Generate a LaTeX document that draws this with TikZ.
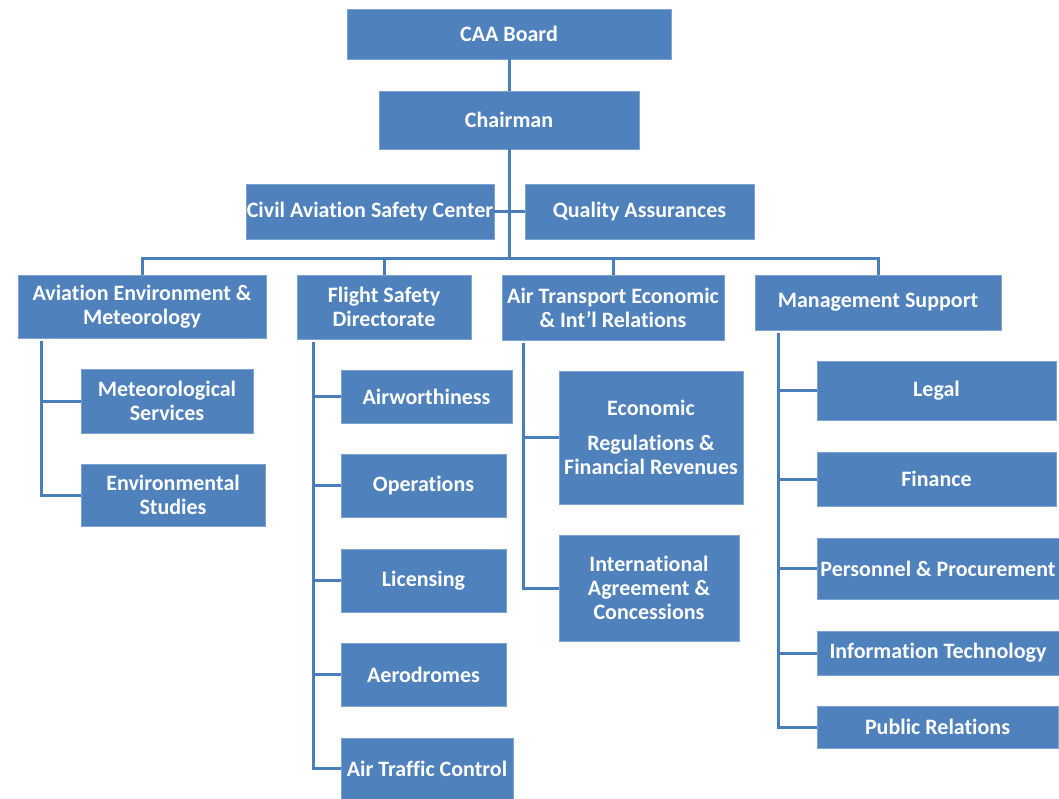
\documentclass[tikz,border=0pt]{standalone}
\usepackage{fontspec}
\setmainfont{Carlito}[Ligatures=NoCommon]
\definecolor{boxfill}{RGB}{79,129,189}
\definecolor{boxedge}{RGB}{125,163,211}
\definecolor{linec}{RGB}{74,126,187}
\begin{document}
\begin{tikzpicture}[x=1pt,y=-1pt,
  box/.style={rectangle, fill=boxfill, draw=boxedge, line width=0.8pt, text=white,
    font=\fontsize{22}{24}\selectfont\bfseries, align=center, inner sep=0pt},
  conn/.style={draw=linec, line width=3pt}]
\useasboundingbox (0,0) rectangle (1059,799);
% top
\node[box, minimum width=324pt, minimum height=50pt] (caa) at (509,34) {CAA Board};
\node[box, minimum width=260pt, minimum height=58pt] (chair) at (509,120) {Chairman};
\node[box, minimum width=248pt, minimum height=55pt] (casc) at (370,211.5) {Civil Aviation Safety Center};
\node[box, minimum width=229pt, minimum height=55pt] (qa) at (639.5,211.5) {Quality Assurances};
% directorates
\node[box, minimum width=248pt, minimum height=63pt] (aem) at (142,306.5) {Aviation Environment \&\\Meteorology};
\node[box, minimum width=174pt, minimum height=64pt] (fsd) at (384,307) {Flight Safety\\Directorate};
\node[box, minimum width=222pt, minimum height=65pt] (ate) at (613,307.5) {Air Transport Economic\\\& Int’l Relations};
\node[box, minimum width=246pt, minimum height=55pt] (ms) at (878,302.5) {Management Support};
% AEM children
\node[box, minimum width=172pt, minimum height=64pt] (met) at (167,401) {Meteorological\\Services};
\node[box, minimum width=184pt, minimum height=62pt] (env) at (173,495) {Environmental\\Studies};
% FSD children
\node[box, minimum width=171pt, minimum height=53pt] (air) at (426.5,396.5) {Airworthiness};
\node[box, minimum width=165pt, minimum height=63pt] (ops) at (423.5,485.5) {Operations};
\node[box, minimum width=165pt, minimum height=63pt] (lic) at (423.5,580.5) {Licensing};
\node[box, minimum width=165pt, minimum height=63pt] (aer) at (423.5,674.5) {Aerodromes};
\node[box, minimum width=172pt, minimum height=61pt] (atc) at (427,768.5) {Air Traffic Control};
% ATE children
\node[box, minimum width=184pt, minimum height=133pt] (eco) at (651,437.5) {Economic\\[11pt]Regulations \&\\Financial Revenues};
\node[box, minimum width=180pt, minimum height=106pt] (intl) at (649,588) {International\\Agreement \&\\Concessions};
% MS children
\node[box, minimum width=239pt, minimum height=59pt] (legal) at (936.5,390.5) {Legal};
\node[box, minimum width=239pt, minimum height=54pt] (fin) at (936.5,479) {Finance};
\node[box, minimum width=242pt, minimum height=61pt] (pers) at (938,568.5) {Personnel \& Procurement};
\node[box, minimum width=242pt, minimum height=44pt] (it) at (938,653) {Information Technology};
\node[box, minimum width=241pt, minimum height=42pt] (pr) at (937.5,727) {Public Relations};
% helper coordinates
\coordinate (bus) at (509,259);
\coordinate (aemT) at (41.5,341);
\coordinate (fsdT) at (313,342);
\coordinate (ateT) at (523,343);
\coordinate (msT) at (778,333);
% connectors
\draw[conn] (caa.south) -- (chair.north);
\draw[conn] (chair.south) -- (bus);
\draw[conn] (casc.east) -- (qa.west);
\draw[conn] (aem.north) -- (aem.north |- bus) -- (ms.north |- bus) -- (ms.north);
\draw[conn] (fsd.north |- bus) -- (fsd.north);
\draw[conn] (ate.north |- bus) -- (ate.north);
\draw[conn] (aemT) |- (env.west);
\draw[conn] (aemT |- met.west) -- (met.west);
\draw[conn] (fsdT) |- (atc.west);
\draw[conn] (fsdT |- air.west) -- (air.west);
\draw[conn] (fsdT |- ops.west) -- (ops.west);
\draw[conn] (fsdT |- lic.west) -- (lic.west);
\draw[conn] (fsdT |- aer.west) -- (aer.west);
\draw[conn] (ateT) |- (intl.west);
\draw[conn] (ateT |- eco.west) -- (eco.west);
\draw[conn] (msT) |- (pr.west);
\draw[conn] (msT |- legal.west) -- (legal.west);
\draw[conn] (msT |- fin.west) -- (fin.west);
\draw[conn] (msT |- pers.west) -- (pers.west);
\draw[conn] (msT |- it.west) -- (it.west);
\end{tikzpicture}
\end{document}
